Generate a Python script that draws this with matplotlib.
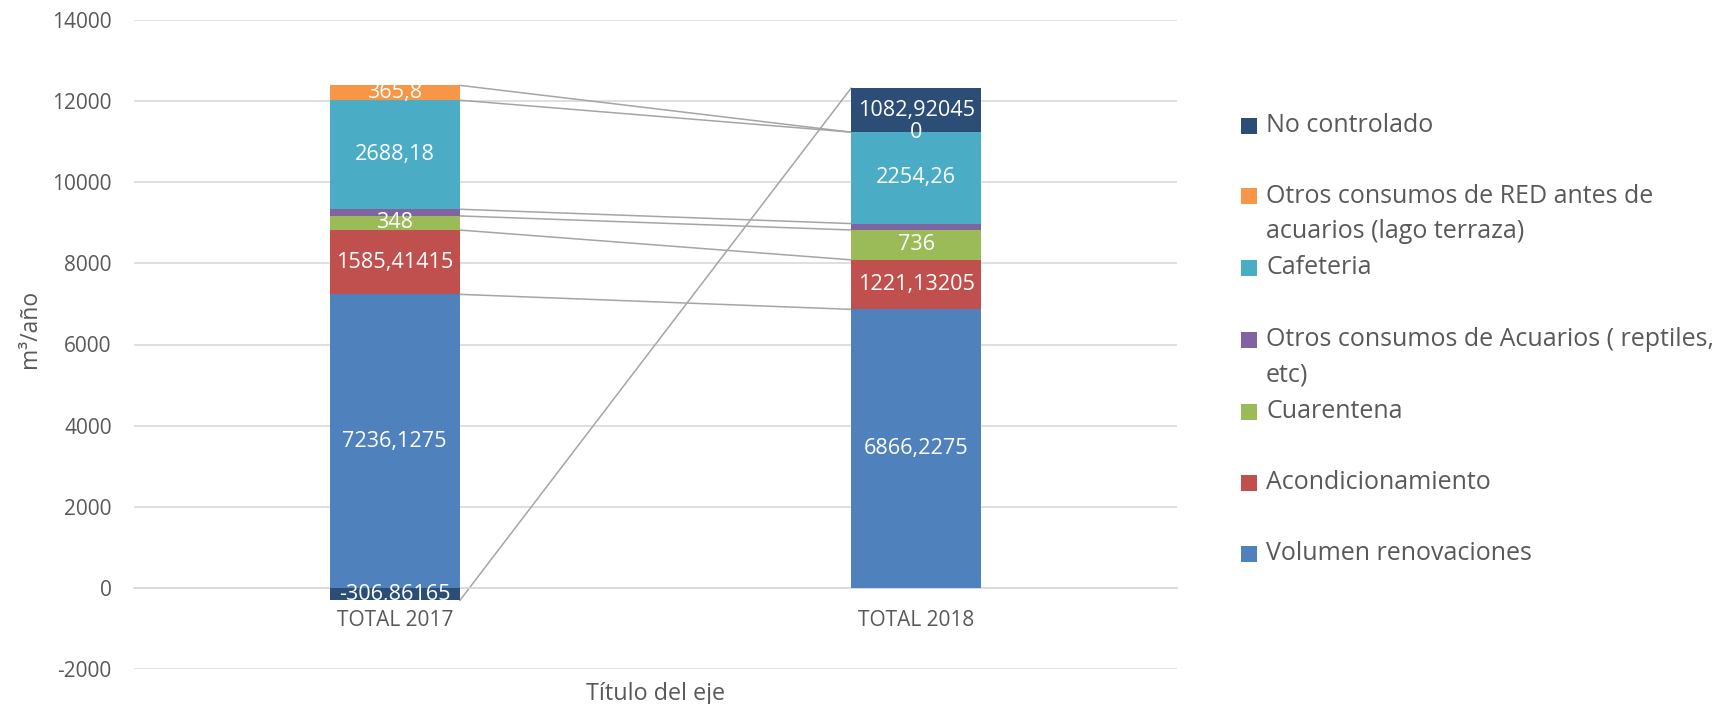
import matplotlib
matplotlib.use("Agg")
import matplotlib.pyplot as plt
from matplotlib.patches import Rectangle

plt.rcParams['font.family'] = ['Open Sans', 'DejaVu Sans']

categories = ["TOTAL 2017", "TOTAL 2018"]
series_names = [
    "Volumen renovaciones",
    "Acondicionamiento",
    "Cuarentena",
    "Otros consumos de Acuarios ( reptiles,\netc)",
    "Cafeteria",
    "Otros consumos de RED antes de\nacuarios (lago terraza)",
    "No controlado",
]
volumen = [7236.1275, 6866.2275]
acondicionamiento = [1585.41415, 1221.13205]
cuarentena = [348.0, 736.0]
otros_acuarios = [165.0, 158.0]
cafeteria = [2688.18, 2254.26]
otros_red = [365.8, 0.0]
no_controlado = [-306.86165, 1082.92045]
series_values = [volumen, acondicionamiento, cuarentena, otros_acuarios,
                 cafeteria, otros_red, no_controlado]
show_labels = [True, True, True, False, True, True, True]
colors = ["#4F81BD", "#C0504D", "#9BBB59", "#8064A2", "#4BACC6", "#F79646", "#2C4D75"]

y_ticks = [-2000, 0, 2000, 4000, 6000, 8000, 10000, 12000, 14000]

W, H = 1729, 704
fig = plt.figure(figsize=(W / 100, H / 100), dpi=100)
ax = fig.add_axes([134 / W, (H - 669) / H, (1177 - 134) / W, (669 - 20) / H])

grey = "#595959"
bar_w = 0.25
x = list(range(len(categories)))

pos_base = [0.0] * len(x)
neg_base = [0.0] * len(x)
ends = []
for name, vals, col, lab in zip(series_names, series_values, colors, show_labels):
    bottoms = []
    for i, v in enumerate(vals):
        if v >= 0:
            bottoms.append(pos_base[i])
            pos_base[i] += v
        else:
            bottoms.append(neg_base[i])
            neg_base[i] += v
    ax.bar(x, vals, bottom=bottoms, width=bar_w, color=col, zorder=3, linewidth=0)
    ends.append([b + v for b, v in zip(bottoms, vals)])
    if lab:
        for i, v in enumerate(vals):
            s = f"{v:.10f}".rstrip('0').rstrip('.').replace('.', ',')
            ax.text(x[i], bottoms[i] + v / 2, s, ha='center', va='center',
                    color='white', fontsize=15.6, zorder=5)

# series lines
for e in ends:
    ax.plot([x[0] + bar_w / 2, x[1] - bar_w / 2], [e[0], e[1]], color="#A5A5A5",
            lw=1.1, zorder=2)

ax.set_xlim(-0.5, 1.5)
ax.set_ylim(-2000, 14000)
ax.set_yticks(y_ticks)
ax.set_yticklabels([str(t) for t in y_ticks])
ax.set_xticks(x)
ax.set_xticklabels(categories)
ax.yaxis.grid(True, color="#D9D9D9", lw=1.2, zorder=0)
ax.set_axisbelow(True)
for side in ['left', 'right', 'top']:
    ax.spines[side].set_visible(False)
ax.spines['bottom'].set_position(('data', 0))
ax.spines['bottom'].set_color("#D9D9D9")
ax.spines['bottom'].set_linewidth(1.2)
ax.tick_params(axis='y', length=0, pad=16, labelsize=15, labelcolor=grey)
ax.tick_params(axis='x', length=0, pad=16, labelsize=15, labelcolor=grey)

fig.text(30 / W, 1 - 329 / H, "m³/año", rotation=90, ha='center', va='center',
         fontsize=16.5, color=grey)
fig.text(655.5 / W, 1 - 694 / H, "Título del eje", ha='center', va='center',
         fontsize=16.8, color=grey)

# legend (reverse order)
leg_y = [125.7, 196.3, 267.7, 340.0, 412.0, 482.8, 554.0]
for yy, name, col in zip(leg_y, series_names[::-1], colors[::-1]):
    fig.add_artist(Rectangle((1241 / W, 1 - (yy + 8) / H), 16 / W, 16 / H,
                             transform=fig.transFigure, facecolor=col, edgecolor='none'))
    for k, line in enumerate(name.split("\n")):
        fig.text(1266 / W, 1 - (yy + 35 * k) / H, line, ha='left', va='center',
                 fontsize=18, color=grey)

fig.savefig("out.png", dpi=100)
